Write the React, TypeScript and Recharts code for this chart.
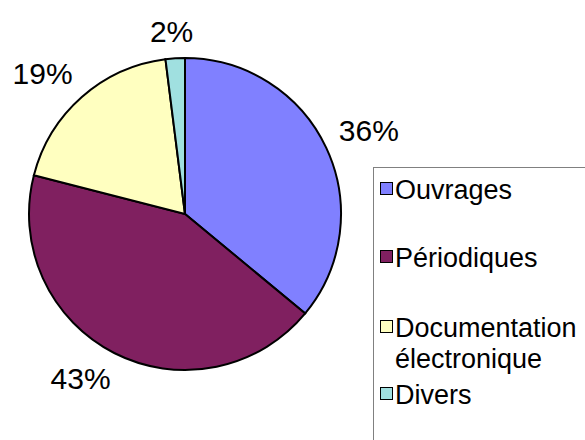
import React from 'react';
import { PieChart, Pie, Cell, Legend } from 'recharts';

const categories = ['Ouvrages', 'Périodiques', 'Documentation électronique', 'Divers'];
const legendLines = [['Ouvrages'], ['Périodiques'], ['Documentation', 'électronique'], ['Divers']];
const values = [36, 43, 19, 2];
const colors = ['#8080FF', '#802060', '#FFFFC0', '#A0E0E0'];

const data = categories.map((name, i) => ({ name, value: values[i] }));

const RAD = Math.PI / 180;
const LABEL_FONT = 30;

const clamp = (v: number) => Math.max(-1, Math.min(1, v));

const renderLabel = (props: any) => {
  const { cx, cy, midAngle, outerRadius, value } = props;
  const text = `${value}%`;
  const r = outerRadius + 14;
  const dx = Math.cos(-midAngle * RAD);
  const dy = Math.sin(-midAngle * RAD);
  const hw = (text.length - 1) * 0.556 * LABEL_FONT / 2 + 0.889 * LABEL_FONT / 2;
  const hh = 13;
  const x = cx + r * dx + hw * clamp(dx * 2);
  const y = cy + r * dy + hh * clamp(dy * 2);
  return (
    <text x={x} y={y} textAnchor="middle" dominantBaseline="central" fill="#000"
      style={{ fontFamily: 'Liberation Sans, Arial, sans-serif', fontSize: LABEL_FONT }}>
      {text}
    </text>
  );
};

const itemTops = [190, 258, 328, 395];

const LegendBox = () => (
  <div style={{ position: 'relative', width: 230, height: 290, border: '1px solid #808080', boxSizing: 'border-box', background: '#fff', fontFamily: 'Liberation Sans, Arial, sans-serif', fontSize: 27, color: '#000' }}>
    {legendLines.map((lines, i) => (
      <div key={i} style={{ position: 'absolute', left: 0, top: itemTops[i] - 167 - 12 }}>
        <div style={{ position: 'absolute', left: 6, top: 3, width: 11, height: 11, background: colors[i], border: '1.5px solid #000', boxSizing: 'content-box' }} />
        <div style={{ position: 'absolute', left: 21, top: 0, lineHeight: '31px', whiteSpace: 'nowrap', marginTop: -4 }}>
          {lines.map((l, j) => (<div key={j}>{l}</div>))}
        </div>
      </div>
    ))}
  </div>
);

export default function App() {
  return (
    <div style={{ position: 'absolute', left: 0, top: 0, width: 585, height: 440, overflow: 'hidden', background: '#fff' }}>
      <PieChart width={585} height={440} margin={{ top: 0, right: 0, bottom: 0, left: 0 }}>
        <Pie
          data={data}
          dataKey="value"
          nameKey="name"
          cx={185}
          cy={214}
          outerRadius={156}
          startAngle={90}
          endAngle={-270}
          stroke="#000"
          strokeWidth={2}
          label={renderLabel}
          labelLine={false}
          isAnimationActive={false}
        >
          {data.map((d, i) => (<Cell key={d.name} fill={colors[i]} />))}
        </Pie>
        <Legend content={() => <LegendBox />} wrapperStyle={{ position: 'absolute', left: 373, top: 167, width: 230 }} />
      </PieChart>
    </div>
  );
}
